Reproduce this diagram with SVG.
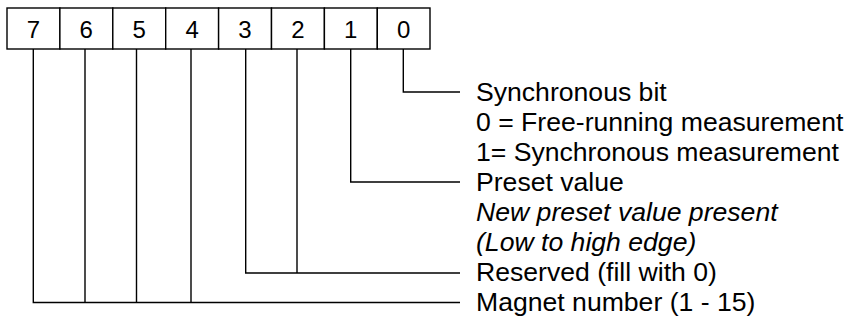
<svg xmlns="http://www.w3.org/2000/svg" width="846" height="320" viewBox="0 0 846 320">
<style>
.cell{fill:#fff;stroke:#000;stroke-width:1.4}
.num{font-family:"Liberation Sans",Arial,sans-serif;font-size:24px;fill:#000;text-anchor:middle}
.lbl{font-family:"Liberation Sans",Arial,sans-serif;font-size:26.6px;fill:#000}
.it{font-style:italic}
.con{fill:none;stroke:#000;stroke-width:1.4}
</style>
<rect width="846" height="320" fill="#fff"/>
<g id="register">
<g id="bit7"><rect class="cell" x="7" y="8" width="52.9" height="41"/><text class="num" x="33.4" y="38">7</text></g>
<g id="bit6"><rect class="cell" x="59.9" y="8" width="52.9" height="41"/><text class="num" x="86.3" y="38">6</text></g>
<g id="bit5"><rect class="cell" x="112.8" y="8" width="52.9" height="41"/><text class="num" x="139.2" y="38">5</text></g>
<g id="bit4"><rect class="cell" x="165.7" y="8" width="52.9" height="41"/><text class="num" x="192.1" y="38">4</text></g>
<g id="bit3"><rect class="cell" x="218.6" y="8" width="52.9" height="41"/><text class="num" x="245" y="38">3</text></g>
<g id="bit2"><rect class="cell" x="271.5" y="8" width="52.9" height="41"/><text class="num" x="297.9" y="38">2</text></g>
<g id="bit1"><rect class="cell" x="324.4" y="8" width="52.9" height="41"/><text class="num" x="350.8" y="38">1</text></g>
<g id="bit0"><rect class="cell" x="377.3" y="8" width="52.7" height="41"/><text class="num" x="403.6" y="38">0</text></g>
</g>
<g id="connectors">
<path class="con" d="M403.3 49V92H460"/>
<path class="con" d="M350.7 49V182H460"/>
<path class="con" d="M245.7 49V273H460M297 49V273"/>
<path class="con" d="M33.3 49V302.5H460M85 49V302.5M136.5 49V302.5M191 49V302.5"/>
</g>
<g id="label-sync">
<text class="lbl" x="476" y="100.5">Synchronous bit</text>
<text class="lbl" x="476" y="130.5">0 = Free-running measurement</text>
<text class="lbl" x="476" y="160.5">1= Synchronous measurement</text>
</g>
<g id="label-preset">
<text class="lbl" x="476" y="190.5">Preset value</text>
<text class="lbl it" x="476" y="220.5">New preset value present</text>
<text class="lbl it" x="476" y="250.5">(Low to high edge)</text>
</g>
<g id="label-reserved"><text class="lbl" x="476" y="281">Reserved (fill with 0)</text></g>
<g id="label-magnet"><text class="lbl" x="476" y="311">Magnet number (1 - 15)</text></g>
</svg>
